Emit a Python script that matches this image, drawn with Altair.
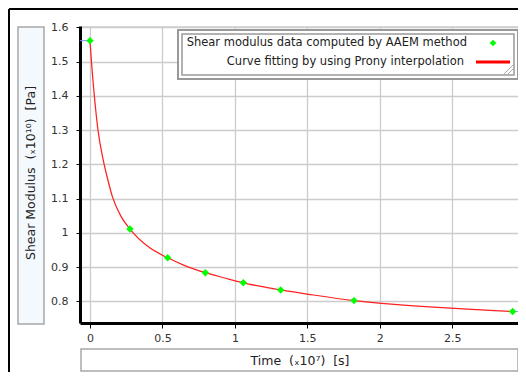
import altair as alt
import pandas as pd

# ---- data ----
pts_t = [0.0, 0.276, 0.536, 0.796, 1.058, 1.316, 1.822, 2.917]
pts_g = [1.561, 1.011, 0.927, 0.8835, 0.854, 0.833, 0.802, 0.770]

curve_t = [0.0, 0.01, 0.03, 0.055, 0.09, 0.12, 0.155, 0.214, 0.276, 0.403, 0.536, 0.65,
           0.796, 0.93, 1.058, 1.2, 1.316, 1.5, 1.822, 2.1, 2.4, 2.7, 2.917]
curve_g = [1.561, 1.50, 1.40, 1.30, 1.215, 1.16, 1.105, 1.048, 1.011, 0.959, 0.927, 0.905,
           0.8835, 0.868, 0.854, 0.842, 0.833, 0.821, 0.802, 0.791, 0.782, 0.775, 0.770]

ext_t = [-0.07, 0.0, 2.917, 2.96]
ext_g = [1.561, 1.561, 0.770, 0.770]
ext_seg = ["a", "a", "b", "b"]

x_ticks = [0, 0.5, 1, 1.5, 2, 2.5]
y_ticks = [0.8, 0.9, 1.0, 1.1, 1.2, 1.3, 1.4, 1.5, 1.6]

NB = "\u00a0"
legend_labels = ["Shear modulus data computed by AAEM method",
                 "Curve fitting by using Prony interpolation"]
x_title = "Time" + NB + NB + "(\u209310\u2077)" + NB + NB + "[s]"
y_title = "Shear Modulus" + NB + NB + "(\u209310\u00b9\u2070)" + NB + NB + "[Pa]"

X_DOMAIN = [-0.069, 2.954]
Y_DOMAIN = [0.7366, 1.6038]
W, H = 438, 297
FONT = "DejaVu Sans"

pts = pd.DataFrame({"t": pts_t, "g": pts_g})
curve = pd.DataFrame({"t": curve_t, "g": curve_g})
ext = pd.DataFrame({"t": ext_t, "g": ext_g, "s": ext_seg})
one = pd.DataFrame({"k": [0]})

xs = alt.Scale(domain=X_DOMAIN, nice=False, zero=False)
ys = alt.Scale(domain=Y_DOMAIN, nice=False, zero=False)

xax = alt.Axis(values=x_ticks, format="~g", title=None, grid=True,
               gridColor="#cccccc", gridWidth=1.3, domainColor="black",
               domainWidth=3, tickColor="black", tickSize=5, tickWidth=1,
               labelFont=FONT, labelFontSize=11, labelColor="#333333",
               labelPadding=4, labelOverlap=False, labelFlush=False)
yax = alt.Axis(values=y_ticks, format="~g", title=None, grid=True,
               gridColor="#cccccc", gridWidth=1.3, domainColor="black",
               domainWidth=3, tickColor="black", tickSize=4, tickWidth=1,
               labelFont=FONT, labelFontSize=11, labelColor="#333333",
               labelPadding=8, labelOverlap=False, labelFlush=False,
               tickCount=9)

base_curve = alt.Chart(curve).mark_line(color="#ff2020", strokeWidth=1.25,
                                         interpolate="monotone").encode(
    x=alt.X("t:Q", scale=xs, axis=xax),
    y=alt.Y("g:Q", scale=ys, axis=yax),
)

ext_line = alt.Chart(ext).mark_line(color="#8888ff", strokeWidth=1).encode(
    x=alt.X("t:Q", scale=xs), y=alt.Y("g:Q", scale=ys), detail="s:N")

points = alt.Chart(pts).mark_point(shape="diamond", filled=True, color="#00ff00",
                                   size=55, opacity=1).encode(
    x=alt.X("t:Q", scale=xs), y=alt.Y("g:Q", scale=ys))


def box(x1, x2, y1, y2, fill, stroke="#a8a8a8", sw=1.5):
    return alt.Chart(one).mark_rect(fill=fill, stroke=stroke, strokeWidth=sw).encode(
        x=alt.value(x1), x2=alt.value(x2), y=alt.value(y1), y2=alt.value(y2))


def txt(s, x, y, angle=0, align="center", size=12):
    return alt.Chart(one).mark_text(text=s, font=FONT, fontSize=size, color="#222222",
                                    align=align, baseline="middle", angle=angle).encode(
        x=alt.value(x), y=alt.value(y))


ybox = box(-62, -36, 1, 298, "#f4f9fd")
xbox = box(1, 438, 323, 345, "#ffffff")
ytitle = txt(y_title, -49, 147, angle=270, size=12.5)
xtitle = txt(x_title, 220, 335, size=12.5)

leg_outer = box(98, 438, 4, 53, "#ffffff", stroke="#999999", sw=2)
leg_inner = box(102, 434, 8, 49, "#ffffff", stroke="#999999", sw=1.5)
leg_t1 = txt(legend_labels[0], 387, 17, align="right", size=11.5)
leg_t2 = txt(legend_labels[1], 384, 36, align="right", size=11.5)
leg_sym = alt.Chart(one).mark_point(shape="diamond", filled=True, color="#00ff00",
                                    size=45, opacity=1).encode(
    x=alt.value(413), y=alt.value(17))
leg_line = alt.Chart(one).mark_rule(color="#ff0000", strokeWidth=3).encode(
    x=alt.value(396), x2=alt.value(430), y=alt.value(36))
handle1 = alt.Chart(one).mark_rule(color="#aaaaaa", strokeWidth=1).encode(
    x=alt.value(424), x2=alt.value(433), y=alt.value(48), y2=alt.value(39))
handle2 = alt.Chart(one).mark_rule(color="#aaaaaa", strokeWidth=1).encode(
    x=alt.value(428), x2=alt.value(433), y=alt.value(48), y2=alt.value(43))

frame_l = alt.Chart(one).mark_rule(color="black", strokeWidth=2).encode(
    x=alt.value(-71), y=alt.value(-17), y2=alt.value(400))
frame_t = alt.Chart(one).mark_rule(color="black", strokeWidth=2).encode(
    x=alt.value(-71), x2=alt.value(460), y=alt.value(-17))

chart = alt.layer(
    base_curve, ext_line, points,
    ybox, xbox, ytitle, xtitle,
    leg_outer, leg_inner, leg_t1, leg_t2, leg_sym, leg_line, handle1, handle2,
    frame_l, frame_t,
).properties(
    width=W, height=H,
    autosize=alt.AutoSizeParams(type="none"),
    padding={"left": 72, "top": 18, "right": 0, "bottom": 49},
).configure_view(stroke="#cccccc", strokeWidth=1.3).configure(background="white")

chart.save("out.html", embed_options={"renderer": "svg", "actions": False})
